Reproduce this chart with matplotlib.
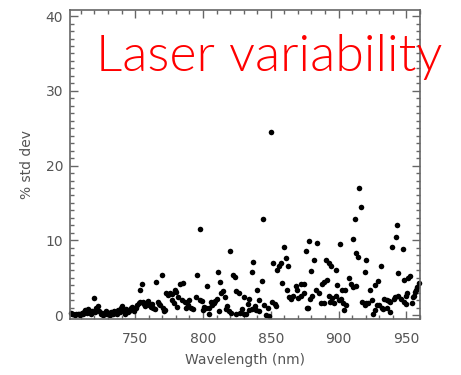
import numpy as np
import matplotlib
matplotlib.use("Agg")
import matplotlib.pyplot as plt
from matplotlib.ticker import MultipleLocator

# wavelength (nm) and % std dev
wl = [702.5, 703.5, 704.5, 705.5, 706.5, 707.5, 708.5, 709.5, 710.5, 711.5,
      712.5, 713.2, 714.5, 715.5, 716.7, 717.5, 718.5, 719.4, 720.3, 721.3,
      722.5, 723.5, 724.5, 725.5, 726.5, 727.5, 728.5, 729.5, 730.5, 731.5,
      732.5, 733.5, 734.5, 735.5, 736.5, 737.7, 738.5, 739.5, 740.3, 741.5,
      742.5, 743.5, 744.5, 745.8, 746.8, 747.5, 748.5, 749.5,
      750.5, 751.5, 752.5, 753.2, 753.7, 754.9, 755.5, 756.5, 757.5, 758.2,
      759.5, 760.5, 761.5, 762.5, 763.5, 764.5, 765.4, 766.6, 767.5, 768.2,
      769.9, 770.2, 771.2, 772.2, 773.0, 774.0, 775.7, 777.0, 777.5, 778.5,
      779.4, 780.2, 781.0, 781.8, 783.0, 784.3, 785.5, 786.8, 787.8, 788.7,
      790.0, 791.0, 792.4,
      794.8, 795.8, 797.8, 797.8, 799.3, 799.8, 801.0, 802.2, 802.7, 804.2,
      804.6, 806.0, 807.0, 808.0, 809.0, 810.0, 810.8, 812.0, 812.7, 813.0,
      815.0, 816.0, 817.0, 818.0, 819.0, 819.6, 820.6, 821.8, 823.8, 824.0,
      824.5, 826.7, 827.0, 828.5, 830.0, 830.5,
      831.6, 833.0, 834.0, 834.2, 836.0, 836.5, 837.0, 838.0, 839.0, 840.0,
      841.4, 841.6, 843.4, 844.3, 845.0, 846.3, 847.6, 848.7, 850.0, 851.0,
      851.7, 853.0, 854.0, 854.9, 856.0, 857.4, 858.0, 860.0, 861.0, 862.0,
      863.0, 863.5, 865.0, 866.5, 868.4, 869.6, 870.0, 872.0, 872.5, 874.5,
      874.5, 875.7, 876.5,
      877.5, 878.0, 878.7, 880.0, 880.6, 881.8, 883.0, 884.0, 885.5, 886.8,
      887.5, 889.2, 889.2, 890.4, 891.7, 892.9, 893.0, 894.0, 894.1, 895.4,
      896.6, 897.8, 898.0, 899.0, 900.3, 900.7, 901.5, 902.2, 903.0, 903.9,
      905.0, 905.2, 907.6, 908.8, 910.5, 910.5, 912.0, 912.5, 913.0, 914.5,
      915.4, 916.4, 917.4, 919.4, 919.4, 919.9,
      920.5, 922.0, 923.3, 924.5, 925.2, 927.0, 927.0, 928.2, 929.4, 930.1,
      931.0, 931.8, 933.0, 933.5, 935.5, 936.0, 937.2, 938.0, 938.0, 939.2,
      940.5, 941.8, 942.1, 942.9, 944.0, 944.0, 946.3, 947.3, 948.0, 948.3,
      949.4, 950.0, 950.5, 951.5, 952.7, 953.9, 955.1, 955.7, 956.4, 957.1,
      957.6, 959.0]

sd = [0.3, 0.1, 0.2, 0.0, 0.1, 0.1, 0.2, 0.0, 0.3, 0.1,
      0.4, 0.7, 0.3, 0.8, 0.6, 0.2, 0.5, 2.3, 0.4, 0.9,
      1.2, 0.6, 0.1, 0.3, 0.0, 0.2, 0.5, 0.1, 0.3, 0.0,
      0.4, 0.2, 0.6, 0.3, 0.1, 0.7, 0.4, 0.9, 1.2, 0.5,
      0.2, 0.8, 0.4, 0.5, 0.9, 1.1, 0.9, 0.6,
      1.0, 1.4, 1.6, 1.8, 3.3, 4.1, 1.7, 1.5, 1.2, 1.6,
      1.9, 1.4, 1.1, 1.5, 1.0, 0.8, 4.4, 1.8, 1.5, 1.3,
      5.3, 0.9, 0.6, 0.7, 2.9, 2.7, 2.9, 2.8, 2.0, 1.6,
      3.3, 3.1, 1.1, 2.4, 4.2, 2.0, 4.3, 1.8, 1.0, 1.3,
      2.0, 1.0, 0.8,
      2.4, 5.4, 11.5, 2.0, 1.9, 0.7, 1.1, 0.9, 3.9, 0.1,
      1.0, 1.8, 1.3, 1.6, 1.9, 2.2, 5.7, 0.6, 4.4, 2.9,
      3.2, 2.4, 0.8, 1.2, 0.6, 8.6, 0.3, 5.4, 5.1, 3.2,
      0.1, 3.0, 0.3, 0.8, 2.4, 0.1,
      0.2, 1.5, 2.2, 0.7, 5.7, 0.8, 7.1, 1.2, 0.7, 3.3,
      2.0, 0.5, 4.5, 12.9, 1.3, 0.0, 0.9, -0.1, 24.5, 1.8,
      6.9, 1.5, 1.2, 6.0, 6.5, 6.9, 4.3, 9.1, 7.6, 3.3,
      6.5, 2.4, 2.2, 2.6, 3.9, 3.3, 2.3, 4.2, 2.6, 4.2,
      3.0, 8.5, 0.9,
      1.0, 9.9, 2.1, 5.9, 2.5, 7.3, 3.3, 9.6, 3.0, 1.6,
      4.1, 4.4, 1.6, 7.3, 4.7, 6.9, 2.5, 1.8, 6.6, 2.3,
      1.6, 6.0, 2.5, 4.0, 2.0, 9.5, 2.1, 3.4, 1.6, 0.7,
      3.3, 1.3, 5.0, 4.1, 3.8, 10.2, 12.9, 8.3, 3.9, 7.7,
      17.0, 14.4, 1.8, 1.3, 5.8, 7.4,
      1.6, 1.6, 3.3, 2.0, 0.1, 4.0, 0.7, 1.3, 4.6, 1.3,
      6.5, 0.9, 0.8, 2.2, 2.0, 0.9, 1.9, 0.4, 1.8, 9.1,
      2.2, 2.4, 10.5, 12.0, 2.5, 5.6, 2.1, 8.9, 1.8, 4.7,
      2.5, 1.5, 3.0, 4.9, 5.2, 1.6, 2.4, 2.5, 3.1, 3.3,
      3.8, 4.3]

fig = plt.figure(figsize=(4.61, 3.75), dpi=100)
ax = fig.add_axes([0.152, 0.149, 0.759, 0.824])

ax.plot(wl, sd, 'o', color='black', markersize=4, markeredgewidth=0, clip_on=False, zorder=3)

ax.set_xlim(702, 960)
ax.set_ylim(-0.55, 40.8)
ax.xaxis.set_major_locator(MultipleLocator(50))
ax.xaxis.set_minor_locator(MultipleLocator(10))
ax.yaxis.set_major_locator(MultipleLocator(10))
ax.yaxis.set_minor_locator(MultipleLocator(1))

grey = '#666666'
for sp in ax.spines.values():
    sp.set_color(grey)
    sp.set_linewidth(1.2)
    sp.set_zorder(4)
ax.tick_params(which='both', direction='in', top=True, right=True, color=grey,
               labelcolor='#555555', labelsize=10)
ax.tick_params(which='major', length=6, width=1)
ax.tick_params(which='minor', length=3, width=1)
ax.tick_params(axis='x', pad=9)
ax.tick_params(axis='y', pad=5)

ax.set_xlabel('Wavelength (nm)', fontsize=10, color='#555555', labelpad=5)
ax.set_ylabel('% std dev', fontsize=10, color='#555555', labelpad=8)

fig.text(0.209, 0.81, 'Laser variability', color='red', fontsize=37.4,
         family='Lato', fontweight=300, ha='left', va='baseline', zorder=1)

fig.savefig('out.png', dpi=100)
